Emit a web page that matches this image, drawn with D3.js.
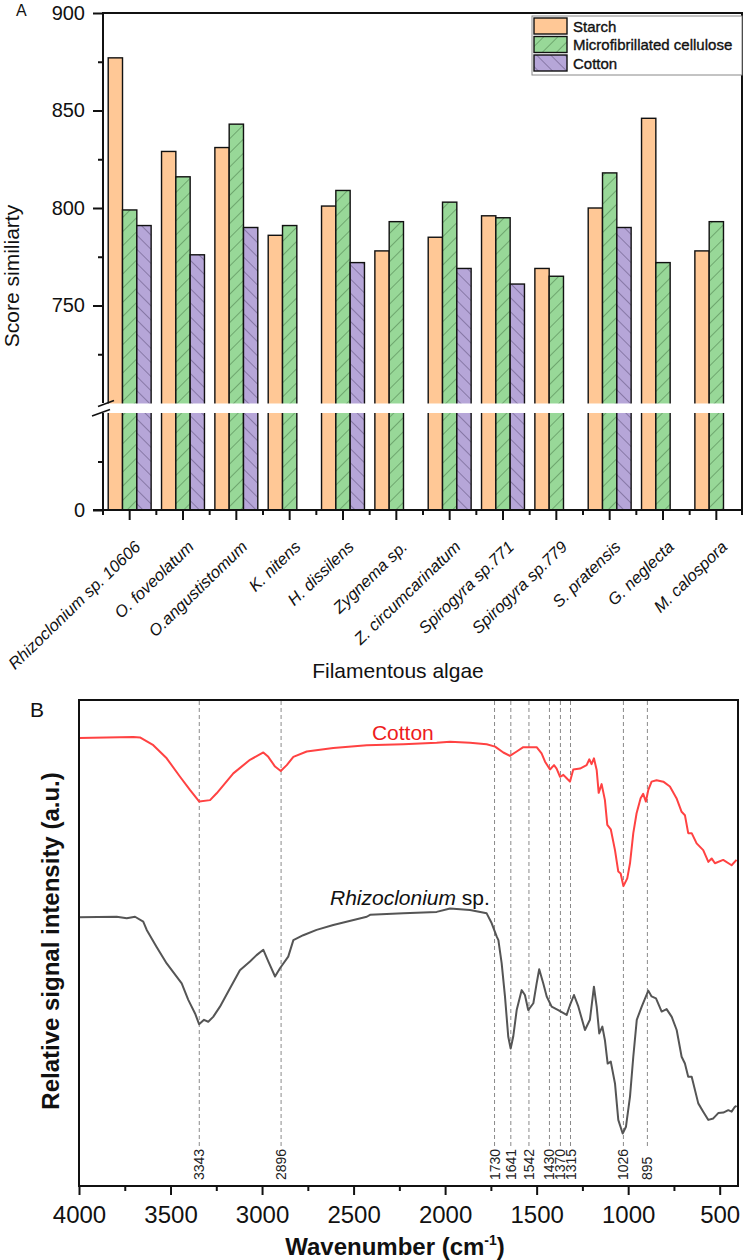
<!DOCTYPE html>
<html><head><meta charset="utf-8">
<script src="https://cdn.jsdelivr.net/npm/d3@7"></script>
<style>
body{margin:0;background:#fff}
svg{display:block}
text{font-family:"Liberation Sans",Arial,sans-serif}
</style>
</head><body>
<svg id="c" width="744" height="1260"></svg>
<script>
// ---------- Panel A data ----------
const categories = ["Rhizoclonium sp. 10606","O. foveolatum","O.angustistomum","K. nitens","H. dissilens","Zygnema sp.","Z. circumcarinatum","Spirogyra sp.771","Spirogyra sp.779","S. pratensis","G. neglecta","M. calospora"];
const seriesNames = ["Starch","Microfibrillated cellulose","Cotton"];
const starch = [877, 829, 831, 786, 801, 778, 785, 796, 769, 800, 846, 778];
const mfc    = [799, 816, 843, 791, 809, 793, 803, 795, 765, 818, 772, 793];
const cottonScore = [791, 776, 790, null, 772, null, 769, 761, null, 790, null, null];
const yMajorUpper = [750, 800, 850, 900];
const yMinorUpper = [725, 775, 825, 875];
const yMajorLower = [0];
const yMinorLower = [50];

// ---------- Panel B data ----------
const wnTicks = [4000, 3500, 3000, 2500, 2000, 1500, 1000, 500];
const wnMinor = [3750, 3250, 2750, 2250, 1750, 1250, 750];
const peaks = [3343, 2896, 1730, 1641, 1542, 1430, 1370, 1315, 1026, 895];
const cottonWn = [4000,3703,3667,3594,3521,3448,3394,3343,3284,3248,3157,3066,2993,2966,2929,2898,2865,2829,2756,2611,2428,2228,2046,1973,1864,1773,1727,1682,1646,1609,1573,1500,1473,1454,1427,1405,1391,1372,1354,1336,1318,1300,1263,1227,1212,1200,1187,1172,1161,1145,1127,1114,1095,1072,1054,1041,1026,1005,990,972,954,932,918,903,890,872,845,808,772,736,708,690,672,653,626,590,562,544,526,481,435,408];
const cottonI  = [92.2,92.4,92.3,90.7,88.0,84.2,81.5,79.1,79.4,80.8,84.9,87.7,89.2,88.3,86.3,85.4,86.6,88.3,89.4,90.1,90.7,90.9,91.2,91.4,91.2,90.9,90.4,89.2,88.5,89.4,90.3,90.3,89.0,87.3,85.7,86.6,85.9,84.2,84.6,83.9,83.2,85.7,85.9,86.6,87.8,86.8,88.0,85.6,80.9,82.7,79.4,74.3,73.4,69.1,64.7,64.3,61.7,63.3,66.4,72.6,76.7,79.8,80.7,79.1,81.5,83.2,83.5,83.2,82.2,79.8,77.0,76.3,72.6,72.6,70.5,69.1,66.7,67.4,66.4,67.1,66.0,67.1];
const rhizoWn = [4000,3794,3739,3694,3649,3630,3576,3521,3439,3403,3366,3344,3317,3294,3267,3230,3175,3121,3066,3030,2993,2966,2929,2902,2857,2829,2775,2702,2611,2428,2410,2228,2046,1973,1864,1773,1746,1718,1709,1691,1673,1655,1642,1628,1609,1582,1564,1546,1518,1500,1486,1464,1445,1418,1382,1336,1318,1296,1272,1236,1209,1187,1172,1158,1141,1127,1112,1095,1072,1054,1030,1012,990,972,953,926,890,872,848,817,790,762,735,708,690,672,653,617,590,562,535,508,480,453,435,417,408];
const rhizoI  = [55.3,55.4,55.1,55.4,54.4,52.7,49.2,45.8,41.7,38.3,35.5,33.3,34.2,33.8,34.8,36.9,40.7,44.4,46.2,47.5,48.6,46.2,43.1,44.8,47.2,50.6,51.6,52.7,53.7,55.4,55.8,56.1,56.4,57.1,56.8,56.1,54.1,51.3,50.6,45.8,39.0,30.7,28.3,30.7,36.2,40.3,39.3,36.2,37.6,41.7,44.6,41.7,39.0,36.9,36.2,35.2,37.2,39.3,36.9,32.1,34.2,41.0,36.9,31.4,32.8,30.0,25.2,25.6,21.1,13.6,10.8,12.2,18.4,26.6,34.2,36.9,40.2,39.0,38.6,35.9,36.4,34.8,32.1,26.6,25.2,22.5,22.5,17.0,15.3,13.6,13.9,15.0,15.1,15.6,15.3,16.3,16.5];

const svg = d3.select("#c");

// ---------- patterns ----------
const defs = svg.append("defs");
function hatch(id, angle, color){
  const p = defs.append("pattern").attr("id", id).attr("patternUnits","userSpaceOnUse")
    .attr("width", 10).attr("height", 10).attr("patternTransform", `rotate(${angle})`);
  p.append("line").attr("x1",0).attr("y1",0).attr("x2",0).attr("y2",10)
    .attr("stroke", color).attr("stroke-width", 0.9);
}
hatch("hG", 45, "#3b6b3b");
hatch("hP", -45, "#4d4068");

const fills = ["#ffc896", "#98d898", "#b6a6d8"];
const hatchFill = [null, "url(#hG)", "url(#hP)"];
const seriesVals = [starch, mfc, cottonScore];

// ---------- Panel A ----------
const x0 = d3.scaleBand().domain(categories).range([103, 743]).paddingInner(0.195).paddingOuter(0.0975);
const x1 = d3.scaleBand().domain([0,1,2]).range([0, x0.bandwidth()]);
const yUp = d3.scaleLinear().domain([700, 900]).range([403, 13]);
const yLow = d3.scaleLinear().domain([0, 100]).range([510, 413]);

const gA = svg.append("g");
seriesVals.forEach((vals, s) => {
  const data = categories.map((c, i) => ({c, v: vals[i]})).filter(d => d.v != null);
  gA.selectAll(null).data(data).enter().append("rect")
    .attr("x", d => x0(d.c) + x1(s)).attr("y", d => yUp(d.v))
    .attr("width", x1.bandwidth()).attr("height", d => yLow(0) - yUp(d.v))
    .attr("fill", fills[s]);
  if (hatchFill[s]) {
    gA.selectAll(null).data(data).enter().append("rect")
      .attr("x", d => x0(d.c) + x1(s)).attr("y", d => yUp(d.v))
      .attr("width", x1.bandwidth()).attr("height", d => yLow(0) - yUp(d.v))
      .attr("fill", hatchFill[s]);
  }
  gA.selectAll(null).data(data).enter().append("rect")
    .attr("x", d => x0(d.c) + x1(s)).attr("y", d => yUp(d.v))
    .attr("width", x1.bandwidth()).attr("height", d => yLow(0) - yUp(d.v))
    .attr("fill", "none").attr("stroke", "#111").attr("stroke-width", 1.4);
});

// break gap
gA.append("rect").attr("x", 104).attr("y", yUp(700) + 0.5)
  .attr("width", 636).attr("height", yLow(100) - yUp(700) - 0.5).attr("fill", "#fff");

// frame
const fr = {l:103, r:742, t:13, b:510};
const lineS = (g, x1_, y1_, x2_, y2_, w) => g.append("line").attr("x1",x1_).attr("y1",y1_).attr("x2",x2_).attr("y2",y2_).attr("stroke","#111").attr("stroke-width",w||2);
lineS(gA, fr.l, fr.t, fr.r, fr.t);
lineS(gA, fr.r, fr.t - 1, fr.r, fr.b + 1);
lineS(gA, fr.l - 10, fr.b, fr.r + 1, fr.b);
lineS(gA, fr.l, fr.t - 1, fr.l, yUp(700));
lineS(gA, fr.l, yLow(100), fr.l, fr.b);
// break marks
lineS(gA, 98, yUp(700) + 3.5, 114, yUp(700) - 2.5, 1.6);
lineS(gA, 92, yLow(100) + 3, 110, yLow(100) - 3.5, 1.6);

function styleAxis(g, size){
  g.select(".domain").remove();
  g.selectAll("line").attr("stroke", "#111").attr("stroke-width", 2);
  g.selectAll("text").attr("font-size", size).attr("fill", "#111")
    .attr("font-family", '"Liberation Sans", Arial, sans-serif');
}
const ax1 = gA.append("g").attr("transform", `translate(${fr.l},0)`)
  .call(d3.axisLeft(yUp).tickValues(yMajorUpper).tickSize(10).tickPadding(8));
styleAxis(ax1, 20);
const ax2 = gA.append("g").attr("transform", `translate(${fr.l},0)`)
  .call(d3.axisLeft(yUp).tickValues(yMinorUpper).tickSize(5).tickFormat(""));
styleAxis(ax2, 20);
const ax3 = gA.append("g").attr("transform", `translate(${fr.l},0)`)
  .call(d3.axisLeft(yLow).tickValues(yMajorLower).tickSize(10).tickPadding(8));
styleAxis(ax3, 20);
const ax4 = gA.append("g").attr("transform", `translate(${fr.l},0)`)
  .call(d3.axisLeft(yLow).tickValues(yMinorLower).tickSize(5).tickFormat(""));
styleAxis(ax4, 20);

const axX = gA.append("g").attr("transform", `translate(0,${fr.b})`)
  .call(d3.axisBottom(x0).tickSize(10).tickFormat(""));
styleAxis(axX, 17);
const bounds = categories.map(c => x0(c) - x0.step() * x0.paddingInner() / 2).concat([fr.r]);
gA.selectAll(null).data(bounds).enter().append("line")
  .attr("x1", d => d).attr("x2", d => d).attr("y1", fr.b).attr("y2", fr.b + 5)
  .attr("stroke", "#111").attr("stroke-width", 2);

gA.selectAll(null).data(categories).enter().append("text")
  .attr("transform", d => `translate(${x0(d) + x0.bandwidth()/2 + 12},548) rotate(-44)`)
  .attr("text-anchor", "end").attr("font-size", 16.5).attr("font-style", "italic")
  .attr("fill", "#111").text(d => d);

gA.append("text").attr("transform", "translate(19,276) rotate(-90)")
  .attr("text-anchor", "middle").attr("font-size", 21).attr("fill", "#111").text("Score similiarty");
gA.append("text").attr("x", 398).attr("y", 678).attr("text-anchor", "middle")
  .attr("font-size", 21).attr("fill", "#111").text("Filamentous algae");
gA.append("text").attr("x", 16).attr("y", 16).attr("font-size", 16).attr("fill", "#111").text("A");

// legend
const lg = gA.append("g");
lg.append("rect").attr("x", 532).attr("y", 16).attr("width", 210).attr("height", 59)
  .attr("fill", "#fff").attr("stroke", "#888").attr("stroke-width", 1);
seriesNames.forEach((n, s) => {
  const yy = 18 + s * 18.5;
  lg.append("rect").attr("x", 534).attr("y", yy).attr("width", 33).attr("height", 16).attr("fill", fills[s]);
  if (hatchFill[s]) lg.append("rect").attr("x", 534).attr("y", yy).attr("width", 33).attr("height", 16).attr("fill", hatchFill[s]);
  lg.append("rect").attr("x", 534).attr("y", yy).attr("width", 33).attr("height", 16)
    .attr("fill", "none").attr("stroke", "#111").attr("stroke-width", 1.4);
  lg.append("text").attr("x", 573).attr("y", yy + 13.5).attr("font-size", 15)
    .attr("fill", "#111").attr("stroke", "#111").attr("stroke-width", 0.35).text(n);
});

// ---------- Panel B ----------
const xB = d3.scaleLinear().domain([4000, 400]).range([79, 738]);
const yB = d3.scaleLinear().domain([0, 100]).range([1186, 700]);
const gB = svg.append("g");

gB.selectAll(null).data(peaks).enter().append("line")
  .attr("x1", d => xB(d)).attr("x2", d => xB(d)).attr("y1", 701).attr("y2", 1148)
  .attr("stroke", "#8a8a8a").attr("stroke-width", 1).attr("stroke-dasharray", "4,3");
gB.selectAll(null).data(peaks).enter().append("text")
  .attr("transform", d => `translate(${xB(d) + 5},1180) rotate(-90)`)
  .attr("font-family", '"Liberation Serif", "Times New Roman", serif')
  .attr("font-size", 14).attr("fill", "#222").text(d => d);

const line = d3.line().x(d => xB(d[0])).y(d => yB(d[1]));
gB.append("path").datum(rhizoWn.map((w, i) => [w, rhizoI[i]]))
  .attr("d", line).attr("fill", "none").attr("stroke", "#555").attr("stroke-width", 2).attr("stroke-linejoin", "round");
gB.append("path").datum(cottonWn.map((w, i) => [w, cottonI[i]]))
  .attr("d", line).attr("fill", "none").attr("stroke", "#ff4242").attr("stroke-width", 2).attr("stroke-linejoin", "round");

gB.append("rect").attr("x", 79).attr("y", 700).attr("width", 659).attr("height", 486)
  .attr("fill", "none").attr("stroke", "#111").attr("stroke-width", 2);

const bx1 = gB.append("g").attr("transform", "translate(0,1186)")
  .call(d3.axisBottom(xB).tickValues(wnTicks).tickSize(9).tickFormat(d3.format("d")));
styleAxis(bx1, 24);
bx1.selectAll("text").attr("y", 37).attr("dy", 0);
const bx2 = gB.append("g").attr("transform", "translate(0,1186)")
  .call(d3.axisBottom(xB).tickValues(wnMinor).tickSize(5).tickFormat(""));
styleAxis(bx2, 24);

gB.append("text").attr("x", 30).attr("y", 717).attr("font-size", 21).attr("fill", "#111").text("B");
gB.append("text").attr("x", xB(2400)).attr("y", yB(91.8)).attr("font-size", 21).attr("fill", "#ee1c1c").text("Cotton");
const rl = gB.append("text").attr("x", xB(2629)).attr("y", yB(57.8)).attr("font-size", 21).attr("fill", "#111");
rl.append("tspan").attr("font-style", "italic").text("Rhizoclonium");
rl.append("tspan").text(" sp.");

gB.append("text").attr("transform", "translate(59,941) rotate(-90)").attr("text-anchor", "middle")
  .attr("font-size", 24).attr("font-weight", "bold").attr("fill", "#111").text("Relative signal intensity (a.u.)");
const xt = gB.append("text").attr("x", 395).attr("y", 1255).attr("text-anchor", "middle")
  .attr("font-size", 24).attr("font-weight", "bold").attr("fill", "#111");
xt.append("tspan").text("Wavenumber (cm");
xt.append("tspan").attr("font-size", 14).attr("dy", -10).text("-1");
xt.append("tspan").attr("dy", 10).text(")");
</script>
</body></html>
